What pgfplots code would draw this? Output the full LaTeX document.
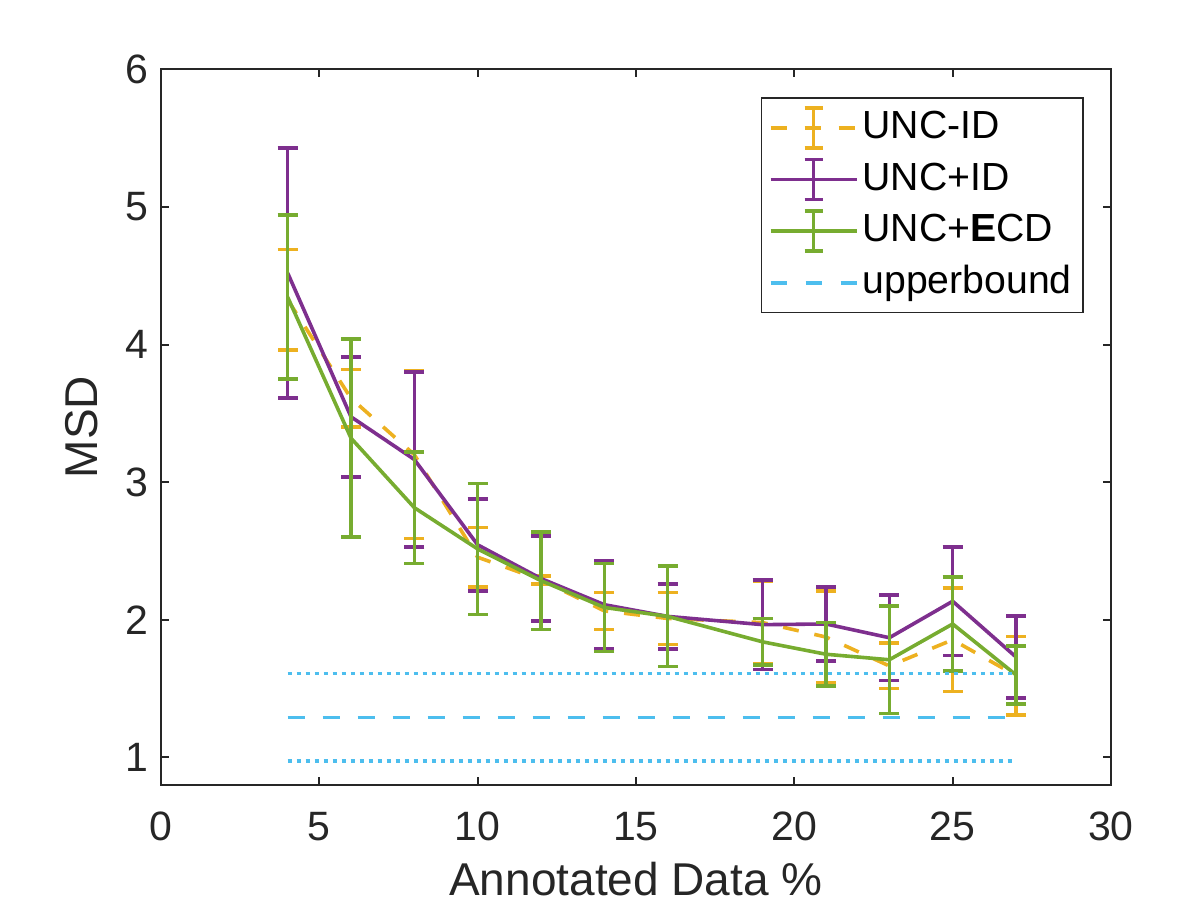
\documentclass[border=0pt]{standalone}
\usepackage{pgfplots}
\pgfplotsset{compat=1.18}
\usepackage{fontspec}
\setmainfont{Liberation Sans}
\definecolor{morange}{rgb}{0.929,0.694,0.125}
\definecolor{mpurple}{rgb}{0.494,0.184,0.556}
\definecolor{mgreen}{rgb}{0.466,0.674,0.188}
\definecolor{mblue}{rgb}{0.301,0.745,0.933}
\definecolor{axgray}{rgb}{0.15,0.15,0.15}
\begin{document}
\begin{tikzpicture}
\begin{axis}[
  scale only axis,
  width=475pt, height=357.85pt,
  xmin=0, xmax=30, ymin=0.8, ymax=6,
  xtick={0,5,...,30}, ytick={1,2,3,4,5,6},
  tick align=inside,
  major tick length=4pt,
  axis line style={axgray, line width=1pt},
  every tick/.style={axgray, line width=1pt},
  tick label style={font=\fontsize{20.5}{24}\selectfont, text=axgray},
  /pgf/number format/assume math mode=true,
  xticklabel style={yshift=-10pt},
  yticklabel style={xshift=-2.7pt},
  xlabel={Annotated Data \%},
  ylabel={MSD},
  every axis x label/.style={at={(axis description cs:0.5,0)}, anchor=center, yshift=-47pt, font=\fontsize{23}{27}\selectfont, text=axgray},
  every axis y label/.style={at={(axis description cs:0,0.5)}, anchor=center, rotate=90, yshift=39.5pt, font=\fontsize{23}{27}\selectfont, text=axgray},
  legend style={at={(0.9716,0.961)}, anchor=north east, draw=axgray, line width=0.8pt,
    font=\fontsize{19.6}{23}\selectfont, cells={anchor=west}, inner sep=3.7pt, row sep=3.3pt,
    nodes={text height=14.5pt, text depth=4pt, inner sep=2pt}},
  legend cell align=left,
  error bars/y dir=both, error bars/y explicit,
  error bars/error bar style={line width=1.8pt, solid},
  error bars/error mark options={rotate=90, mark size=5pt, line width=1.8pt, solid},
]
\addplot[morange, line width=1.8pt, dash pattern=on 8pt off 8pt, mark=none,
  legend image code/.code={
    \draw[morange, line width=1.8pt, dash pattern=on 8pt off 9pt] (0pt,0pt) -- (43pt,0pt);
    \draw[morange, line width=1.8pt, solid] (21.5pt,-10pt) -- (21.5pt,10pt) (17pt,-10pt) -- (26pt,-10pt) (17pt,10pt) -- (26pt,10pt);}]
  coordinates {
  (4,4.325) +- (0,0.365)
  (6,3.61) +- (0,0.21)
  (8,3.20) +- (0,0.61)
  (10,2.455) +- (0,0.215)
  (12,2.29) +- (0,0.03)
  (14,2.065) +- (0,0.135)
  (16,2.01) +- (0,0.19)
  (19,1.98) +- (0,0.30)
  (21,1.875) +- (0,0.335)
  (23,1.665) +- (0,0.165)
  (25,1.855) +- (0,0.375)
  (27,1.595) +- (0,0.285)
  };
\addlegendentry{UNC-ID}
\addplot[mpurple, line width=1.8pt, mark=none,
  legend image code/.code={
    \draw[mpurple, line width=1.8pt] (0pt,0pt) -- (43pt,0pt);
    \draw[mpurple, line width=1.8pt, solid] (21.5pt,-10pt) -- (21.5pt,10pt) (17pt,-10pt) -- (26pt,-10pt) (17pt,10pt) -- (26pt,10pt);}]
  coordinates {
  (4,4.52) +- (0,0.91)
  (6,3.475) +- (0,0.435)
  (8,3.165) +- (0,0.635)
  (10,2.545) +- (0,0.335)
  (12,2.30) +- (0,0.31)
  (14,2.11) +- (0,0.32)
  (16,2.025) +- (0,0.235)
  (19,1.965) +- (0,0.325)
  (21,1.97) +- (0,0.27)
  (23,1.87) +- (0,0.31)
  (25,2.135) +- (0,0.395)
  (27,1.73) +- (0,0.30)
  };
\addlegendentry{UNC+ID}
\addplot[mgreen, line width=1.8pt, mark=none,
  legend image code/.code={
    \draw[mgreen, line width=1.8pt] (0pt,0pt) -- (43pt,0pt);
    \draw[mgreen, line width=1.8pt, solid] (21.5pt,-10pt) -- (21.5pt,10pt) (17pt,-10pt) -- (26pt,-10pt) (17pt,10pt) -- (26pt,10pt);}]
  coordinates {
  (4,4.345) +- (0,0.595)
  (6,3.32) +- (0,0.72)
  (8,2.815) +- (0,0.405)
  (10,2.515) +- (0,0.475)
  (12,2.285) +- (0,0.355)
  (14,2.09) +- (0,0.32)
  (16,2.025) +- (0,0.365)
  (19,1.84) +- (0,0.17)
  (21,1.75) +- (0,0.23)
  (23,1.71) +- (0,0.39)
  (25,1.97) +- (0,0.34)
  (27,1.60) +- (0,0.21)
  };
\addlegendentry{UNC+\textbf{E}CD}
\addplot[mblue, line width=1.9pt, dash pattern=on 8.5pt off 9pt, mark=none, error bars/y dir=none,
  legend image code/.code={\draw[mblue, line width=1.9pt, dash pattern=on 8pt off 9.5pt] (0pt,0pt) -- (43pt,0pt);}]
  coordinates {(4,1.29) (27,1.29)};
\addlegendentry{upperbound}
\addplot[mblue, line width=1.9pt, dash pattern=on 2pt off 2.5pt, mark=none, error bars/y dir=none, forget plot]
  coordinates {(4,1.61) (27,1.61)};
\addplot[mblue, line width=1.9pt, dash pattern=on 2pt off 2.5pt, mark=none, error bars/y dir=none, forget plot]
  coordinates {(4,0.975) (27,0.975)};
\end{axis}
\pgfresetboundingbox
\useasboundingbox (-80.5pt,-69pt) rectangle (517pt,392.5pt);
\end{tikzpicture}
\end{document}
